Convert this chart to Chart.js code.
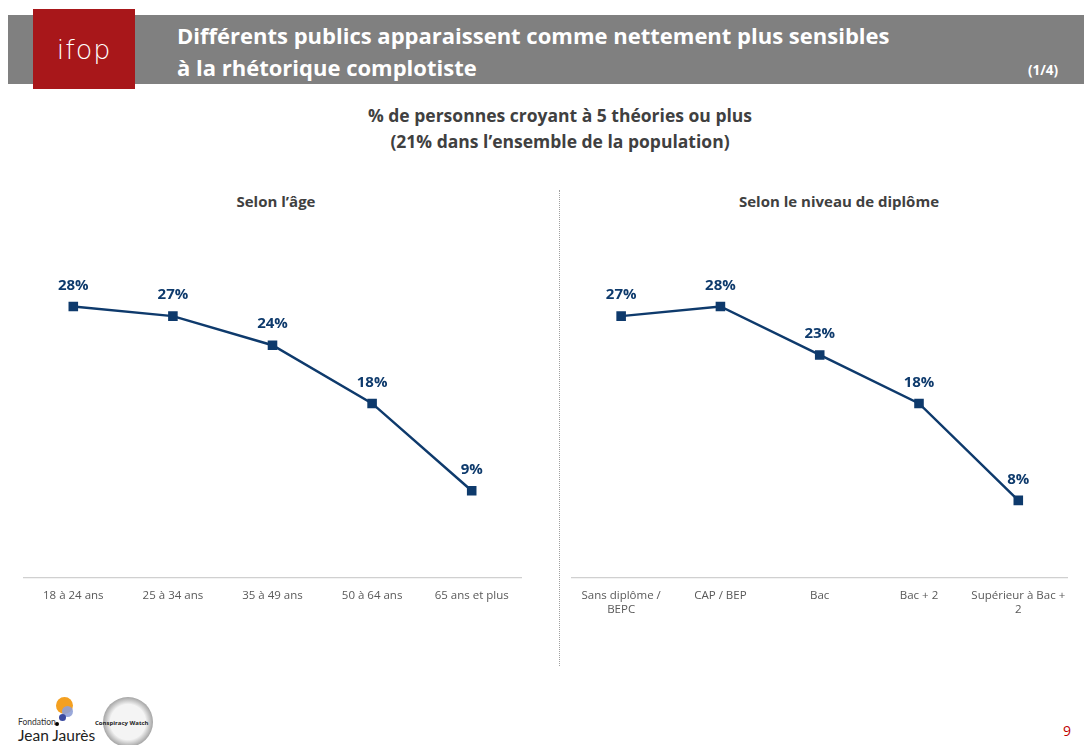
<!DOCTYPE html>
<html><head><meta charset="utf-8">
<script src="https://cdn.jsdelivr.net/npm/chart.js@4"></script>
<style>
body{margin:0;width:1084px;height:745px;background:#fff;position:relative;overflow:hidden;font-family:"Open Sans",Lato,sans-serif;}
.abs{position:absolute;}
#band{left:8px;top:15px;width:1076px;height:69px;background:#808080;}
#logo{left:33px;top:9px;width:102px;height:80px;background:#A8171A;color:#fff;font-family:"DejaVu Sans",sans-serif;font-weight:200;font-size:27px;display:flex;align-items:center;justify-content:center;letter-spacing:1px;}
#title{left:177px;top:19px;color:#fff;font-weight:bold;font-size:22px;line-height:32px;}
#pg{left:1028px;top:61px;color:#fff;font-weight:bold;font-size:13.5px;}
#sub{left:0;width:1120px;top:102px;text-align:center;color:#404040;font-weight:bold;font-size:17.5px;line-height:26px;}
.st{top:191px;color:#404040;font-weight:bold;font-size:15px;text-align:center;}
#sep{left:559px;top:190px;height:476px;border-left:1.5px dotted #a0a0a0;}
#num{left:1063px;top:721px;color:#C00000;font-size:14px;}
canvas{position:absolute;}
</style></head><body>
<div class="abs" id="band"></div>
<div class="abs" id="logo">ifop</div>
<div class="abs" id="title">Différents publics apparaissent comme nettement plus sensibles<br>à la rhétorique complotiste</div>
<div class="abs" id="pg">(1/4)</div>
<div class="abs" id="sub">% de personnes croyant à 5 théories ou plus<br>(21% dans l’ensemble de la population)</div>
<div class="abs st" style="left:26px;width:500px;">Selon l’âge</div>
<div class="abs st" style="left:571px;width:536px;">Selon le niveau de diplôme</div>
<div class="abs" id="sep"></div>
<div class="abs" id="num">9</div>
<!-- footer logos -->
<div class="abs" style="left:56px;top:697px;width:17px;height:17px;border-radius:50%;background:#F4A020;"></div>
<div class="abs" style="left:62px;top:706px;width:11px;height:11px;border-radius:50%;background:#8E9ED6;opacity:.9"></div>
<div class="abs" style="left:59px;top:714px;width:7px;height:7px;border-radius:50%;background:#3B4AA0;"></div>
<div class="abs" style="left:55px;top:722px;width:4px;height:4px;border-radius:50%;background:#000;"></div>
<div class="abs" style="left:18px;top:717px;font-size:8.5px;color:#333;font-family:Lato,sans-serif;">Fondation</div>
<div class="abs" style="left:18px;top:726px;font-size:15.5px;color:#222;font-family:Lato,sans-serif;">Jean Jaurès</div>
<div class="abs" style="left:103px;top:697px;width:50px;height:50px;border-radius:50%;background:radial-gradient(circle,#f4f4f4 50%,#888 78%,#fff 100%);"></div>
<div class="abs" style="left:95px;top:719px;font-size:6px;font-weight:bold;color:#222;">Conspiracy Watch</div>
<canvas id="c1"></canvas>
<canvas id="c2"></canvas>
<script>
const ageLabels = ["18 à 24 ans", "25 à 34 ans", "35 à 49 ans", "50 à 64 ans", "65 ans et plus"];
const ageValues = [28, 27, 24, 18, 9];
const dipLabels = [["Sans diplôme /", "BEPC"], "CAP / BEP", "Bac", "Bac + 2", ["Supérieur à Bac +", "2"]];
const dipValues = [27, 28, 23, 18, 8];

const NAVY = '#0E3A6C';
const labelPlugin = {
  id: 'vlabels',
  afterDatasetsDraw(chart) {
    const ctx = chart.ctx;
    const meta = chart.getDatasetMeta(0);
    ctx.save();
    ctx.fillStyle = NAVY;
    ctx.font = 'bold 15px "Open Sans", Lato, sans-serif';
    ctx.textAlign = 'center';
    ctx.textBaseline = 'middle';
    meta.data.forEach((pt, i) => {
      ctx.fillText(chart.data.datasets[0].data[i] + '%', pt.x, pt.y - 21);
    });
    ctx.restore();
  }
};

function make(id, left, width, labels, values) {
  const cv = document.getElementById(id);
  const H = 430;
  cv.style.left = left + 'px';
  cv.style.top = '200px';
  cv.style.width = width + 'px';
  cv.style.height = H + 'px';
  cv.width = width; cv.height = H;
  new Chart(cv, {
    type: 'line',
    data: { labels: labels, datasets: [{
      data: values, borderColor: NAVY, borderWidth: 2.5,
      pointStyle: 'rect', pointRadius: 5, pointBackgroundColor: NAVY, pointBorderColor: NAVY,
      pointHoverRadius: 5, tension: 0, clip: false
    }]},
    options: {
      responsive: false, animation: false, devicePixelRatio: 1,
      layout: { padding: 0 },
      plugins: { legend: { display: false }, tooltip: { enabled: false } },
      scales: {
        x: {
          offset: true,
          grid: { display: false, drawTicks: false },
          border: { display: true, color: '#D0D0D0', width: 1.2 },
          ticks: { color: '#595959', font: { size: 11.5, family: '"Open Sans", Lato, sans-serif' }, padding: 11, maxRotation: 0, autoSkip: false },
          afterFit: s => { s.height = 52; }
        },
        y: { display: false, min: 0, max: 38.2 }
      }
    },
    plugins: [labelPlugin]
  });
}
make('c1', 16, 513, ageLabels, ageValues);
make('c2', 564, 513, dipLabels, dipValues);
</script>
</body></html>
